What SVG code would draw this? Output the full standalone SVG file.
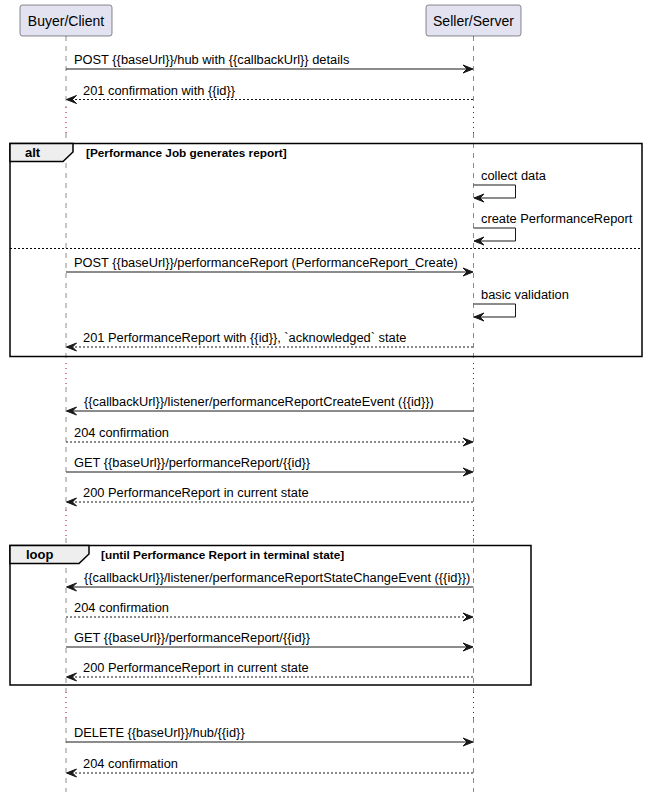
<svg xmlns="http://www.w3.org/2000/svg" width="649" height="797" viewBox="0 0 649 797">
<style>
text{font-family:"Liberation Sans",Arial,sans-serif;fill:#000}
.msg{font-size:12.85px}
.pt{font-size:14px}
.kw{font-size:13px;font-weight:bold}
.grd{font-size:11.8px;font-weight:bold}
.box{fill:#E2E2F0;stroke:#181818;stroke-width:0.5}
.life{stroke:#181818;stroke-width:0.5;stroke-dasharray:5,5;fill:none}
.delay{stroke:#A80036;stroke-width:1;stroke-dasharray:1,4;fill:none}
.solid{stroke:#181818;stroke-width:1;fill:none}
.dash{stroke:#181818;stroke-width:1;stroke-dasharray:2,2;fill:none}
.frame{fill:none;stroke:#000;stroke-width:1.5}
.tab{fill:#EEEEEE;stroke:#000;stroke-width:1.5}
.sep{stroke:#000;stroke-width:1;stroke-dasharray:2,2}
.head{fill:#181818;stroke:#181818;stroke-width:1}
</style>
<defs>
<polygon id="ar" class="head" points="-10,-4 0,0 -10,4 -6,0"/>
<polygon id="al" class="head" points="10,-4 0,0 10,4 6,0"/>
</defs>

<g id="lifelines">
<path class="life" d="M66,36V107M66,133V363M66,387V510M66,538V692M66,718V792"/>
<path class="delay" d="M66,107V133M66,363V387M66,510V538M66,692V718"/>
<path class="life" d="M473.5,36V107M473.5,133V363M473.5,387V510M473.5,538V692M473.5,718V792"/>
<path class="delay" d="M473.5,107V133M473.5,363V387M473.5,510V538M473.5,692V718"/>
</g>

<g id="buyer">
<rect class="box" x="20" y="5" width="92" height="31" rx="2.5"/>
<text class="pt" x="66" y="25.5" text-anchor="middle">Buyer/Client</text>
</g>
<g id="seller">
<rect class="box" x="426" y="5" width="95" height="31" rx="2.5"/>
<text class="pt" x="473.5" y="25.5" text-anchor="middle">Seller/Server</text>
</g>

<g id="alt">
<rect class="frame" x="10" y="143.5" width="632" height="213"/>
<polygon class="tab" points="10,143.5 73,143.5 73,152 63,161.5 10,161.5"/>
<text class="kw" x="25" y="157">alt</text>
<text class="grd" x="86" y="157">[Performance Job generates report]</text>
<line class="sep" x1="10" y1="248.5" x2="642" y2="248.5"/>
</g>

<g id="loop">
<rect class="frame" x="10" y="545.5" width="521" height="139.5"/>
<polygon class="tab" points="10,545.5 89,545.5 89,554 79,563.5 10,563.5"/>
<text class="kw" x="26" y="559">loop</text>
<text class="grd" x="101" y="559">[until Performance Report in terminal state]</text>
</g>

<g id="connectors">
<line class="solid" x1="66" y1="69" x2="472" y2="69"/><use href="#ar" x="473" y="69"/>
<text class="msg" x="74" y="64">POST {{baseUrl}}/hub with {{callbackUrl}} details</text>

<line class="dash" x1="67" y1="99.5" x2="473.5" y2="99.5"/><use href="#al" x="66.5" y="99.5"/>
<text class="msg" x="83" y="94.5">201 confirmation with {{id}}</text>

<path class="solid" d="M473.5,185H515.5V198H474.5"/><use href="#al" x="474" y="198"/>
<text class="msg" x="481" y="180">collect data</text>

<path class="solid" d="M473.5,228H515.5V241H474.5"/><use href="#al" x="474" y="241"/>
<text class="msg" x="481" y="223">create PerformanceReport</text>

<line class="solid" x1="66" y1="272" x2="472" y2="272"/><use href="#ar" x="473" y="272"/>
<text class="msg" x="74" y="267">POST {{baseUrl}}/performanceReport (PerformanceReport_Create)</text>

<path class="solid" d="M473.5,304H515.5V317H474.5"/><use href="#al" x="474" y="317"/>
<text class="msg" x="481" y="299">basic validation</text>

<line class="dash" x1="67" y1="347" x2="473.5" y2="347"/><use href="#al" x="66.5" y="347"/>
<text class="msg" x="83" y="342">201 PerformanceReport with {{id}}, `acknowledged` state</text>

<line class="solid" x1="67" y1="411" x2="473.5" y2="411"/><use href="#al" x="66.5" y="411"/>
<text class="msg" x="84" y="406">{{callbackUrl}}/listener/performanceReportCreateEvent ({{id}})</text>

<line class="dash" x1="66" y1="442" x2="472" y2="442"/><use href="#ar" x="473" y="442"/>
<text class="msg" x="74" y="437">204 confirmation</text>

<line class="solid" x1="66" y1="472" x2="472" y2="472"/><use href="#ar" x="473" y="472"/>
<text class="msg" x="74" y="467">GET {{baseUrl}}/performanceReport/{{id}}</text>

<line class="dash" x1="67" y1="502" x2="473.5" y2="502"/><use href="#al" x="66.5" y="502"/>
<text class="msg" x="83" y="497">200 PerformanceReport in current state</text>

<line class="solid" x1="67" y1="587" x2="473.5" y2="587"/><use href="#al" x="66.5" y="587"/>
<text class="msg" x="84" y="582">{{callbackUrl}}/listener/performanceReportStateChangeEvent ({{id}})</text>

<line class="dash" x1="66" y1="617" x2="472" y2="617"/><use href="#ar" x="473" y="617"/>
<text class="msg" x="74" y="612">204 confirmation</text>

<line class="solid" x1="66" y1="647" x2="472" y2="647"/><use href="#ar" x="473" y="647"/>
<text class="msg" x="74" y="642">GET {{baseUrl}}/performanceReport/{{id}}</text>

<line class="dash" x1="67" y1="677" x2="473.5" y2="677"/><use href="#al" x="66.5" y="677"/>
<text class="msg" x="83" y="672">200 PerformanceReport in current state</text>

<line class="solid" x1="66" y1="742" x2="472" y2="742"/><use href="#ar" x="473" y="742"/>
<text class="msg" x="74" y="737">DELETE {{baseUrl}}/hub/{{id}}</text>

<line class="dash" x1="67" y1="773" x2="473.5" y2="773"/><use href="#al" x="66.5" y="773"/>
<text class="msg" x="83" y="768">204 confirmation</text>
</g>
</svg>
